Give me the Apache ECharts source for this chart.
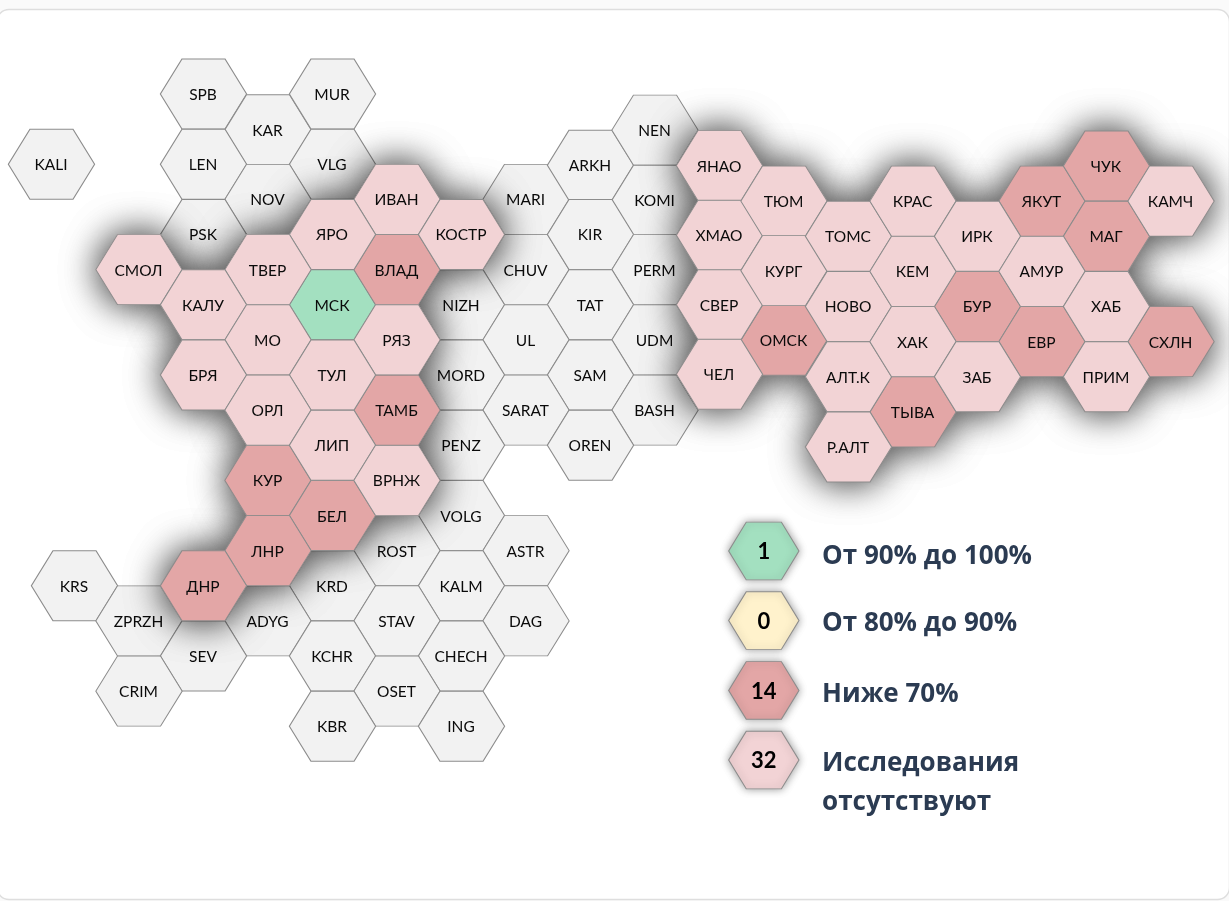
<!DOCTYPE html>
<html><head><meta charset="utf-8">
<style>html,body{margin:0;padding:0;background:#fafafa}#c{width:1229px;height:901px}</style>
<script src="https://cdn.jsdelivr.net/npm/echarts@6/dist/echarts.min.js"></script>
</head><body><div id="c"></div>
<script>
// Tile lists: [name, column, row] on the hexagonal grid
const neutralTiles = [
 ['KALI',-0.357,4],['SPB',2,2],['KAR',3,3.02],['MUR',4,2],['LEN',2,4],['VLG',4,4],['NOV',3,5],['PSK',2,6],
 ['MARI',7,5],['ARKH',8,4.03],['NEN',9,3.03],['KOMI',9,5.025],['CHUV',7,7],['KIR',8,6],['PERM',9,7],['NIZH',6,8],
 ['TAT',8,8],['UL',7,9],['UDM',9,9],['MORD',6,10],['SAM',8,10],['SARAT',7,11],['BASH',9,11],['PENZ',6,12],
 ['OREN',8,12],['VOLG',6,14],['ROST',5,15],['ASTR',7,15],['KRS',0,16],['KRD',4,16],['KALM',6,16],
 ['ZPRZH',1,17],['ADYG',3,17],['STAV',5,17],['DAG',7,17],['SEV',2,18],['KCHR',4,18],['CHECH',6,18],
 ['CRIM',1,19],['OSET',5,19],['KBR',4,20],['ING',6,20]
];
const greenTiles = [['МСК',4,8]];
const darkTiles = [
 ['ВЛАД',5,7],['ТАМБ',5,11],['КУР',3,13],['БЕЛ',4,14],['ЛНР',3,15],['ДНР',2,16],
 ['ОМСК',11,9.01],['ТЫВА',13,11.05],['БУР',14,8.05],['ЯКУТ',15,5.05],['ЕВР',15,9.05],
 ['ЧУК',16,4.05],['МАГ',16,6.05],['СХЛН',17,9.05]
];
const paleTiles = [
 ['ИВАН',5,5],['ЯРО',4,6],['КОСТР',6,6],['СМОЛ',1,7],['ТВЕР',3,7],['КАЛУ',2,8],['МО',3,9],['РЯЗ',5,9],
 ['БРЯ',2,10],['ТУЛ',4,10],['ОРЛ',3,11],['ЛИП',4,12],['ВРНЖ',5,13],
 ['ЯНАО',10,4.04],['ХМАО',10,6.02],['СВЕР',10,8],['ЧЕЛ',10,9.98],['ТЮМ',11,5.05],['КУРГ',11,7.03],
 ['ТОМС',12,6.05],['НОВО',12,8.05],['АЛТ.К',12,10.05],['Р.АЛТ',12,12.05],['КРАС',13,5.05],['КЕМ',13,7.05],
 ['ХАК',13,9.05],['ИРК',14,6.05],['ЗАБ',14,10.05],['АМУР',15,7.05],['ХАБ',16,8.05],['ПРИМ',16,10.05],['КАМЧ',17,5.05]
];
const legendCounts = ['1','0','14','32'];
const legendRows = [15.01,16.99,18.98,20.96];
const legendTexts = ['От 90% до 100%','От 80% до 90%','Ниже 70%','Исследования\nотсутствуют'];
const legendTextRows = [15.17,17.08,19.1,21.62];
const legendHexCol = 10.687, legendTextCol = 11.59;
const COLORS = {neutral:'#f2f2f2',green:'#a3e0c0',yellow:'#fff2cc',dark:'#e3a6a6',pale:'#f2d3d5'};
const legendColors = [COLORS.green,COLORS.yellow,COLORS.dark,COLORS.pale];

const HEX = 'path://M0 35 L21.6 0 L64.7 0 L86.3 35 L64.7 70 L21.6 70 Z';
const FONT = 'Lato, "Noto Sans", sans-serif';
const toData = (t,color)=>t.map(d=>({name:d[0],value:[d[1],d[2]],itemStyle:{color}}));
const tileLabel = {show:true,position:'inside',offset:[-0.5,1],formatter:'{b}',color:'#0a0a0a',fontSize:15.5,fontFamily:FONT};
const base = {type:'scatter',symbol:HEX,symbolSize:[86.3,70],silent:true,
  itemStyle:{borderColor:'#8c8c8c',borderWidth:1,opacity:1},emphasis:{disabled:true}};
const colored = [...toData(greenTiles,COLORS.green),...toData(darkTiles,COLORS.dark),...toData(paleTiles,COLORS.pale)];
const shadowLayer = {...base,data:colored,label:{show:false},
  itemStyle:{borderWidth:0,opacity:1,shadowBlur:36,shadowColor:'rgba(0,0,0,0.5)'}};

const chart = echarts.init(document.getElementById('c'),null,{renderer:'canvas'});
chart.setOption({
  animation:false,
  backgroundColor:'#fafafa',
  grid:{left:10,right:58,top:23.7,bottom:104.44},
  xAxis:{type:'value',min:-1,max:17,show:false},
  yAxis:{type:'value',min:0,max:22,inverse:true,show:false},
  tooltip:{show:false},
  graphic:[{type:'rect',z:-10,silent:true,shape:{x:-3,y:9.5,width:1232.5,height:890,r:12},
    style:{fill:'#ffffff',stroke:'#dedede',lineWidth:1.5}}],
  series:[
    {...base,z:2,data:toData(neutralTiles,COLORS.neutral),label:tileLabel},
    {...shadowLayer,z:3},
    {...shadowLayer,z:3},
    {...base,z:4,data:colored,label:tileLabel},
    {...base,z:5,symbolSize:[70.3,57.7],
      data:legendCounts.map((c,i)=>({name:c,value:[legendHexCol,legendRows[i]],itemStyle:{color:legendColors[i]}})),
      itemStyle:{borderColor:'#8c8c8c',borderWidth:1,opacity:1,shadowBlur:8,shadowColor:'rgba(0,0,0,0.4)'},
      label:{show:true,position:'inside',offset:[0,1],formatter:'{b}',color:'#000',fontSize:22,fontWeight:'bold',fontFamily:FONT}},
    {type:'scatter',z:5,symbolSize:0,silent:true,itemStyle:{opacity:1},
      data:legendTexts.map((t,i)=>({name:t,value:[legendTextCol,legendTextRows[i]]})),
      label:{show:true,position:'right',distance:0,formatter:'{b}',color:'#2b3b52',fontSize:26,fontWeight:'bold',lineHeight:39,fontFamily:'"Open Sans", sans-serif'}}
  ]
});
</script></body></html>
